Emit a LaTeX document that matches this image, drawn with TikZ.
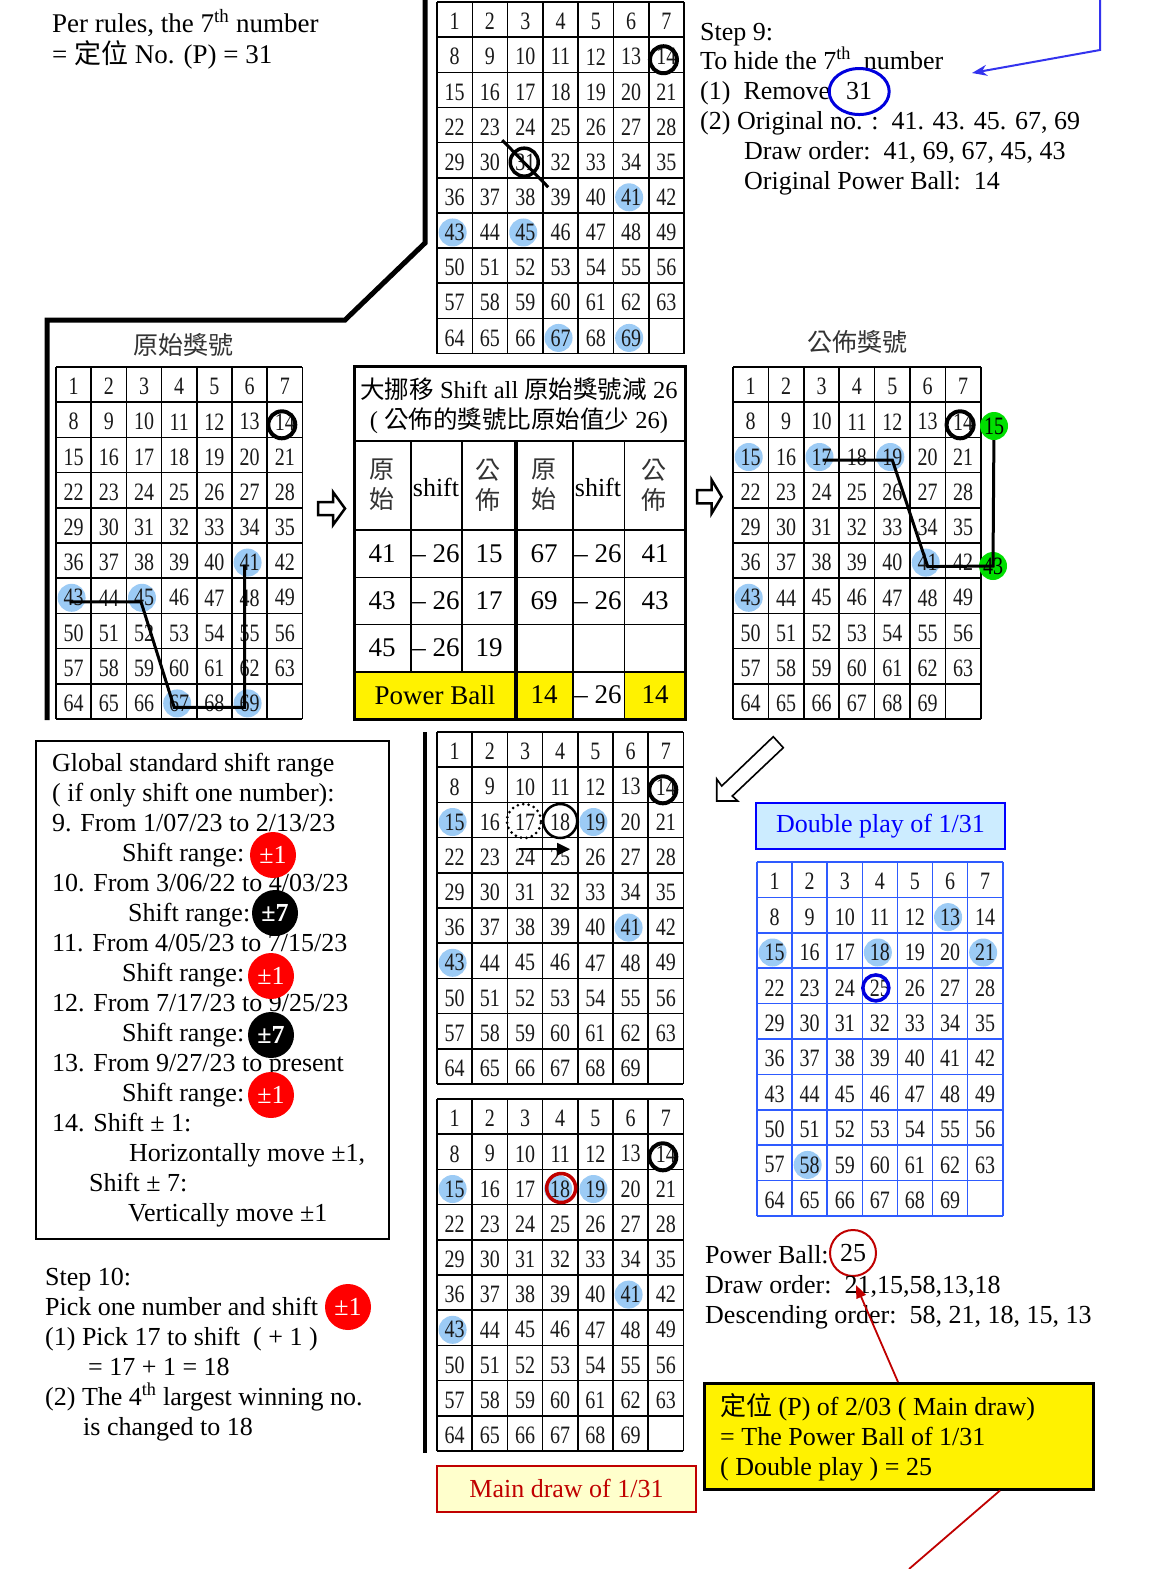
\documentclass[tikz,border=0pt]{standalone}
\usepackage{fontspec}
\setmainfont{Liberation Serif}
\newfontfamily\cjk{Noto Sans CJK TC}
\newfontfamily\gridfont[FakeStretch=0.8]{Liberation Serif}
\usetikzlibrary{arrows.meta,calc}
\pgfdeclarelayer{bg}
\pgfsetlayers{bg,main}
\definecolor{dotblue}{HTML}{9CCBF5}
\definecolor{dgreen}{HTML}{00E000}
\definecolor{badgered}{HTML}{FF0000}
\definecolor{darkred}{HTML}{C00000}
\definecolor{gridblue}{HTML}{2E5BFF}
\definecolor{lyellow}{HTML}{FFFFCC}
\definecolor{lblue}{HTML}{CCECFF}
\definecolor{arrowblue}{HTML}{3333EE}
\definecolor{ringblue}{HTML}{0000DD}
\newcommand\numgrid[6]{%
  \foreach \ii in {0,...,7} {\draw[gridline,#6] ({#2+\ii*#4},#3) -- ({#2+\ii*#4},{#3+10*#5});}%
  \foreach \jj in {0,...,10} {\draw[gridline,#6] (#2,{#3+\jj*#5}) -- ({#2+7*#4},{#3+\jj*#5});}%
  \foreach \rr in {0,...,9} {\foreach \cc in {0,...,6} {%
    \pgfmathtruncatemacro\nn{7*\rr+\cc+1}%
    \ifnum\nn<70 \node[gnum] (#1-\nn) at ({#2+(\cc+0.5)*#4},{#3+(\rr+0.5)*#5}) {\nn};\fi
  }}%
}
\newcommand\dotat[1]{\fill[dotblue] ($(#1.center)+(-2,0)$) circle (14pt);}
\newcommand\ringat[1]{\draw[line width=4pt] ($(#1.center)+(-3,3)$) circle (13.5pt);}
\begin{document}
\begin{tikzpicture}[x=1pt,y=-1pt,
  gridline/.style={line width=1.6pt},
  gnum/.style={inner sep=0pt, yshift=-2pt, text=black!90, font=\gridfont\fontsize{25}{25}\selectfont},
  txt/.style={anchor=base west, inner sep=0pt, font=\fontsize{26}{30}\selectfont},
  ctxt/.style={inner sep=0pt, font=\fontsize{26}{30}\selectfont},
  ttl/.style={inner sep=0pt, font=\fontsize{24.5}{30}\selectfont},
  tdat/.style={inner sep=0pt, font=\fontsize{27}{30}\selectfont},
  tcjk/.style={inner sep=0pt, align=center, font=\cjk\fontsize{25}{30}\selectfont, text=black!80},
  badge/.style={circle, inner sep=0pt, minimum size=46pt, text=white, font=\fontsize{26}{26}\selectfont},
  gball/.style={circle, fill=dgreen, minimum size=28pt, inner sep=0pt, font=\gridfont\fontsize{25}{25}\selectfont},
  thickline/.style={line width=5pt, line join=miter}]
\useasboundingbox (0,0) rectangle (1156,1569);
\begin{pgfonlayer}{bg}
\fill[white] (0,0) rectangle (1156,1569);
\end{pgfonlayer}

% ---------- grids ----------
\numgrid{GT}{437}{2}{35.3}{35.15}{black}
\numgrid{GL}{56}{367}{35.2}{35.2}{black}
\numgrid{GR}{733}{367}{35.4}{35.2}{black}
\numgrid{GA}{437}{732}{35.2}{35.2}{black}
\numgrid{GB}{437}{1099}{35.2}{35.2}{black}
\numgrid{GD}{757}{862}{35.1}{35.4}{gridblue}

\begin{pgfonlayer}{bg}
\dotat{GT-41}\dotat{GT-43}\dotat{GT-45}\dotat{GT-67}\dotat{GT-69}
\dotat{GL-41}\dotat{GL-43}\dotat{GL-45}\dotat{GL-67}\dotat{GL-69}
\dotat{GR-15}\dotat{GR-17}\dotat{GR-19}\dotat{GR-41}\dotat{GR-43}
\dotat{GA-15}\dotat{GA-19}\dotat{GA-41}\dotat{GA-43}
\dotat{GB-15}\dotat{GB-18}\dotat{GB-19}\dotat{GB-41}\dotat{GB-43}
\dotat{GD-13}\dotat{GD-15}\dotat{GD-18}\dotat{GD-21}\dotat{GD-58}
\end{pgfonlayer}

\ringat{GT-14}\ringat{GL-14}\ringat{GR-14}\ringat{GA-14}\ringat{GB-14}

% strike on 31 (top grid)
\draw[line width=3.5pt] ($(GT-31.center)+(-1,0)$) circle (14pt);
\draw[line width=3pt] ($(GT-31.center)+(-23,-22)$) -- ($(GT-31.center)+(23,25)$);

% left grid path
\draw[line width=3pt, line join=miter] ($(GL-43.center)+(-4,4)$) -- ($(GL-45.center)+(-3,4)$) -- ($(GL-67.center)+(-5,4)$) -- ($(GL-69.center)+(-5,4)$) -- ($(GL-41.center)+(-5,2)$);

% right grid path with green balls
\node[gball] (gA) at (994,426) {15};
\node[gball] (gB) at (993,566) {43};
\draw[line width=3pt, line join=miter] ($(GR-17.center)+(1,3)$) -- ($(GR-19.center)+(0,3)$) -- ($(GR-41.center)+(0,4)$) -- (gB.center) -- (gA);

% middle grid 1 marks
\draw[line width=3pt, dash pattern=on 0pt off 5.5pt, line cap=round] ($(GA-17.center)+(-1,-1)$) circle (17pt);
\draw[line width=2.5pt] ($(GA-18.center)+(0,-1)$) circle (17pt);
\draw[line width=2.5pt, -{Triangle[length=13pt,width=12pt]}] ($(GA-24.center)+(-6,-8)$) -- ($(GA-25.center)+(10,-8)$);

% middle grid 2 mark
\draw[darkred, line width=3.5pt] ($(GB-18.center)+(1,-1)$) circle (14.5pt);

% blue grid ring
\draw[ringblue, line width=3.5pt] ($(GD-25.center)+(-4,0)$) circle (13pt);

% ---------- thick black connectors ----------
\coordinate (k1) at (425,0);
\coordinate (k2) at (425,243);
\coordinate (k3) at (345,320);
\coordinate (k4) at (47,320);
\coordinate (k5) at (47,720);
\draw[thickline] (k1) -- (k2) -- (k3) -- (k4) -- (k5);
\coordinate (k6) at (425,732);
\coordinate (k7) at (425,1453);
\draw[line width=4.5pt] (k6) -- (k7);

% ---------- top-left text ----------
\node[txt, font=\fontsize{27}{30}\selectfont] (pr1) at (52,32) {Per rules, the 7\textsuperscript{th} number};
\node[txt, font=\fontsize{27}{30}\selectfont] (pr2) at (52,63) {= {\cjk 定位} No. (P) = 31};

% ---------- step 9 ----------
\node[txt] (s9a) at (700,40) {Step 9:};
\node[txt] (s9b) at (700,69) {To hide the 7\textsuperscript{th}\ \ number};
\node[txt] (s9c) at (700,99) {(1)\ \ Remove};
\node[txt] (s9n) at (846,99) {31};
\node[txt] (s9d) at (700,129) {(2) Original no. :\ \ 41. 43. 45. 67, 69};
\node[txt] (s9e) at (744,159) {Draw order:\ \ 41, 69, 67, 45, 43};
\node[txt] (s9f) at (744,189) {Original Power Ball:\ \ 14};
\draw[ringblue, line width=3pt] ($(s9n.center)+(0,1)$) ellipse [x radius=30pt, y radius=23pt];
\coordinate (bA) at (1100,0);
\coordinate (bB) at (1100,50);
\coordinate (bTip) at (972,73);
\draw[arrowblue, line width=2pt, -{Stealth[length=15pt,width=11pt]}] (bA) -- (bB) -- (bTip);

% ---------- titles ----------
\node[tcjk] (tl) at (183,345) {原始獎號};
\node[tcjk] (tr) at (857,342) {公佈獎號};

% ---------- hollow arrows ----------
\draw[line width=2.5pt, fill=white, line join=miter] (318,502) -- (333,502) -- (333,492) -- (345,508.5) -- (333,525) -- (333,515) -- (318,515) -- cycle;
\draw[line width=2.5pt, fill=white, line join=miter] (697,490) -- (711.7,490) -- (711.7,480) -- (721.7,496.7) -- (711.7,513.3) -- (711.7,503.3) -- (697,503.3) -- cycle;
\draw[line width=1.6pt, fill=white, line join=miter] (773.3,736.7) -- (721.7,786) -- (716.7,779) -- (716.7,801) -- (737.7,801) -- (732.3,796) -- (783.3,747.7) -- cycle;

% ---------- middle table ----------
\fill[yellow] (354,671.7) rectangle (572.7,719);
\fill[yellow] (624.3,671.7) rectangle (685,719);
\foreach \yy in {441,530,577.3,624.3,671.7} \draw[line width=1.6pt] (354,\yy) -- (685,\yy);
\foreach \xx in {410.7,461.7} \draw[line width=1.6pt] (\xx,441) -- (\xx,671.7);
\foreach \xx in {572.7,624.3} \draw[line width=1.6pt] (\xx,441) -- (\xx,719);
\draw[line width=4pt] (516,441) -- (516,719);
\draw[line width=3pt] (354,366) rectangle (685,719);
\node[ttl] (tb1) at (519,389) {{\cjk 大挪移} Shift all {\cjk 原始獎號減} 26};
\node[ttl] (tb2) at (519,421) {( {\cjk 公佈的獎號比原始值少} 26)};
\node[tcjk] (h1) at (382,485) {原\\始};
\node[ctxt] (h2) at (436,487) {shift};
\node[tcjk] (h3) at (488,485) {公\\佈};
\node[tcjk] (h4) at (544,485) {原\\始};
\node[ctxt] (h5) at (598,487) {shift};
\node[tcjk] (h6) at (654,485) {公\\佈};
\node[tdat] (d11) at (382,554) {41};
\node[tdat] (d12) at (436,554) {– 26};
\node[tdat] (d13) at (489,554) {15};
\node[tdat] (d14) at (544,554) {67};
\node[tdat] (d15) at (598,554) {– 26};
\node[tdat] (d16) at (655,554) {41};
\node[tdat] (d21) at (382,601) {43};
\node[tdat] (d22) at (436,601) {– 26};
\node[tdat] (d23) at (489,601) {17};
\node[tdat] (d24) at (544,601) {69};
\node[tdat] (d25) at (598,601) {– 26};
\node[tdat] (d26) at (655,601) {43};
\node[tdat] (d31) at (382,648) {45};
\node[tdat] (d32) at (436,648) {– 26};
\node[tdat] (d33) at (489,648) {19};
\node[tdat] (d41) at (435,695) {Power Ball};
\node[tdat] (d44) at (544,695) {14};
\node[tdat] (d45) at (598,695) {– 26};
\node[tdat] (d46) at (655,695) {14};

% ---------- left box ----------
\draw[line width=2pt] (36,741) rectangle (389,1239);
\node[txt] (L1) at (52,771) {Global standard shift range};
\node[txt] (L2) at (52,801) {( if only shift one number):};
\node[txt] (L3) at (52,831) {9. From 1/07/23 to 2/13/23};
\node[txt] (L4) at (122,861) {Shift range:};
\node[txt] (L5) at (52,891) {10. From 3/06/22 to 4/03/23};
\node[txt] (L6) at (128,921) {Shift range:};
\node[txt] (L7) at (52,951) {11. From 4/05/23 to 7/15/23};
\node[txt] (L8) at (122,981) {Shift range:};
\node[txt] (L9) at (52,1011) {12. From 7/17/23 to 9/25/23};
\node[txt] (L10) at (122,1041) {Shift range:};
\node[txt] (L11) at (52,1071) {13. From 9/27/23 to present};
\node[txt] (L12) at (122,1101) {Shift range:};
\node[txt] (L13) at (52,1131) {14. Shift ± 1:};
\node[txt] (L14) at (129,1161) {Horizontally move ±1,};
\node[txt] (L15) at (89,1191) {Shift ± 7:};
\node[txt] (L16) at (128,1221) {Vertically move ±1};
\node[badge, fill=badgered] (b1) at (273,855) {±1};
\node[badge, fill=black, font=\bfseries\fontsize{26}{26}\selectfont] (b2) at (275,913) {±7};
\node[badge, fill=badgered] (b3) at (271,976) {±1};
\node[badge, fill=black, font=\bfseries\fontsize{26}{26}\selectfont] (b4) at (271,1035) {±7};
\node[badge, fill=badgered] (b5) at (271,1095) {±1};

% ---------- step 10 ----------
\node[txt] (S1) at (45,1285) {Step 10:};
\node[txt] (S2) at (45,1315) {Pick one number and shift};
\node[txt] (S3) at (45,1345) {(1) Pick 17 to shift\ \ ( + 1 )};
\node[txt] (S4) at (88,1375) {= 17 + 1 = 18};
\node[txt] (S5) at (45,1405) {(2) The 4\textsuperscript{th} largest winning no.};
\node[txt] (S6) at (83,1435) {is changed to 18};
\node[badge, fill=badgered] (b6) at (348,1307) {±1};

% ---------- boxes ----------
\node[draw=darkred, fill=lyellow, line width=2pt, minimum width=259pt, minimum height=46pt, inner sep=0pt, text=darkred, font=\fontsize{26}{26}\selectfont] (mdbox) at (566.5,1488.5) {Main draw of 1/31};
\node[draw=blue, fill=lblue, line width=2.5pt, minimum width=249pt, minimum height=46pt, inner sep=0pt, text=blue, font=\fontsize{26}{26}\selectfont] (dpbox) at (880.5,826) {Double play of 1/31};

% ---------- power ball text ----------
\node[txt] (p1) at (705,1263) {Power Ball:};
\node[circle, draw=darkred, line width=2pt, minimum size=46pt, inner sep=0pt, font=\fontsize{26}{26}\selectfont] (pb25) at (853,1253) {25};
\node[txt] (p2) at (705,1293) {Draw order:\ \ 21,15,58,13,18};
\node[txt] (p3) at (705,1323) {Descending order:\ \ 58, 21, 18, 15, 13};

\node[draw, fill=yellow, line width=2.5pt, minimum width=389pt, minimum height=106pt, anchor=north west, inner sep=0pt] (ybox) at (703,1382) {};
\node[txt] (y1) at (720,1415) {{\cjk 定位} (P) of 2/03 ( Main draw)};
\node[txt] (y2) at (720,1445) {= The Power Ball of 1/31};
\node[txt] (y3) at (720,1475) {( Double play ) = 25};

\coordinate (rtip) at (856,1285);
\coordinate (rEnd) at (909,1569);
\draw[darkred, line width=1.8pt, -{Triangle[length=13pt,width=10pt]}] ($(ybox.north west)+(195,0)$) -- (rtip);
\draw[darkred, line width=1.8pt] ($(ybox.south west)+(297,0)$) -- (rEnd);
\end{tikzpicture}
\end{document}
